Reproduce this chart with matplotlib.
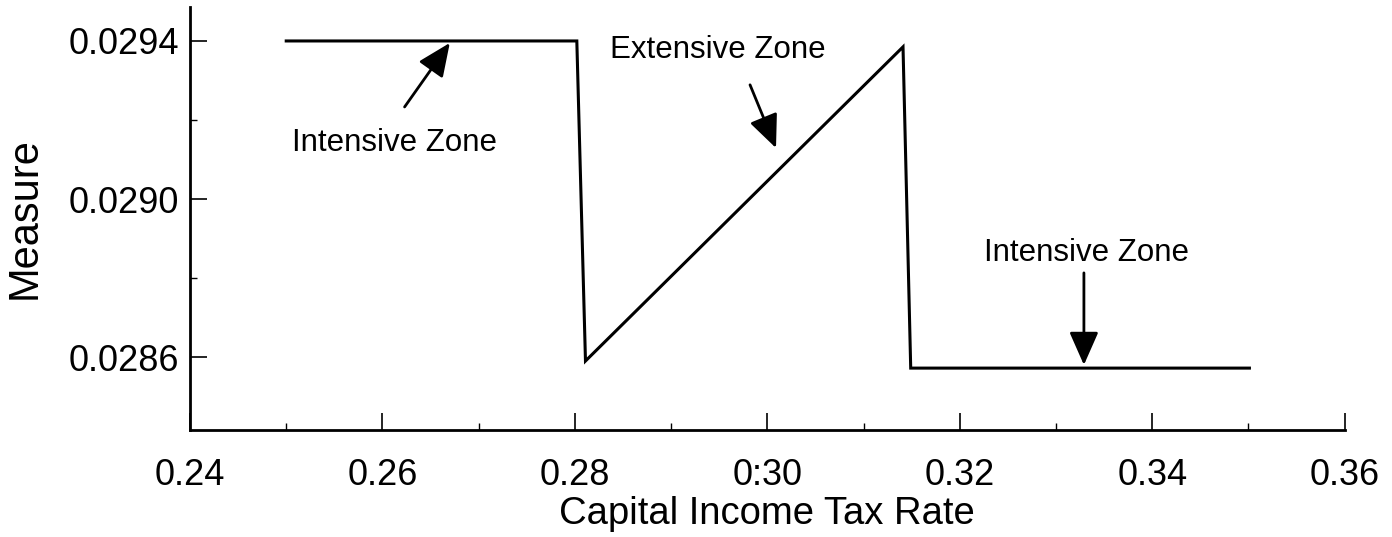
import numpy as np
import matplotlib
matplotlib.use('Agg')
import matplotlib.pyplot as plt
from matplotlib.ticker import MultipleLocator

# curve
tax_rate = [0.250, 0.2802, 0.2811, 0.3141, 0.3149, 0.3501]
measure = [0.02940, 0.02940, 0.02859, 0.029385, 0.028572, 0.028572]

x_ticks = [0.24, 0.26, 0.28, 0.30, 0.32, 0.34, 0.36]
x_tick_labels = ['0.24', '0.26', '0.28', '0:30', '0.32', '0.34', '0.36']
y_ticks = [0.0286, 0.0290, 0.0294]
y_tick_labels = ['0.0286', '0.0290', '0.0294']

# annotation labels: text, text position, arrow tail, arrow head
zone_labels = ['Intensive Zone', 'Extensive Zone', 'Intensive Zone']
zone_text_xy = [(0.2613, 0.029142), (0.2949, 0.029377), (0.3332, 0.028863)]
zone_tail_xy = [(0.2623, 0.029233), (0.2982, 0.029289), (0.3329, 0.028813)]
zone_head_xy = [(0.2670, 0.029395), (0.3009, 0.029129), (0.3329, 0.028580)]

plt.rcParams['font.family'] = ['Liberation Sans', 'DejaVu Sans']

fig = plt.figure(figsize=(13.92, 5.37), dpi=100)
ax = fig.add_axes([0.1365, 0.199, 0.8295, 0.788])

ax.plot(tax_rate, measure, color='black', linewidth=2.2, solid_joinstyle='miter')

ax.set_xlim(0.24, 0.36)
ax.set_ylim(0.028415, 0.029486)
ax.set_xticks(x_ticks)
ax.set_xticklabels(x_tick_labels)
ax.set_yticks(y_ticks)
ax.set_yticklabels(y_tick_labels)
ax.xaxis.set_minor_locator(MultipleLocator(0.01))
ax.yaxis.set_minor_locator(MultipleLocator(0.0002))

ax.spines['top'].set_visible(False)
ax.spines['right'].set_visible(False)
ax.spines['left'].set_linewidth(2)
ax.spines['bottom'].set_linewidth(2)
ax.tick_params(which='major', direction='in', length=12, width=1.2, labelsize=26)
ax.tick_params(axis='x', which='major', pad=20)
ax.tick_params(axis='y', which='major', pad=8)
ax.tick_params(which='minor', direction='in', length=5, width=1)

ax.set_xlabel('Capital Income Tax Rate', fontsize=27.5, labelpad=2)
ax.set_ylabel('Measure', fontsize=30, labelpad=17)

for label, txt, tail, head in zip(zone_labels, zone_text_xy, zone_tail_xy, zone_head_xy):
    ax.text(txt[0], txt[1], label, fontsize=22.5, ha='center', va='center')
    ax.annotate('', xy=head, xytext=tail,
                arrowprops=dict(arrowstyle='-|>,head_length=1.7,head_width=0.75',
                                mutation_scale=12,
                                color='black', linewidth=2, shrinkA=0, shrinkB=0))

fig.savefig('out.png', dpi=100)
